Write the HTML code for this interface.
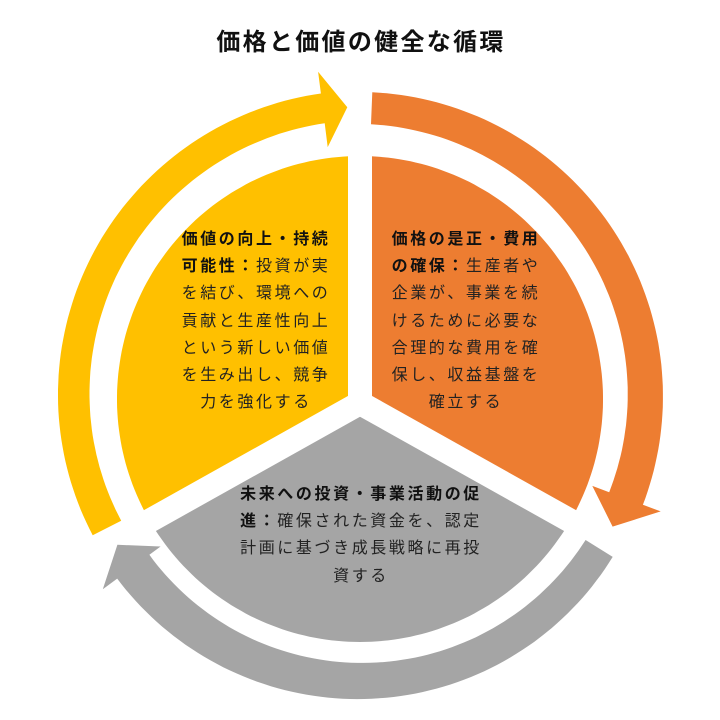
<!DOCTYPE html>
<html><head><meta charset="utf-8">
<style>
html,body{margin:0;padding:0;background:#fff;}
#w{position:relative;width:720px;height:720px;overflow:hidden;font-family:"Liberation Sans","Noto Sans CJK JP",sans-serif;}
svg{position:absolute;left:0;top:0;}
.t{position:absolute;text-align:center;font-size:16px;letter-spacing:2.6px;line-height:27.2px;color:#222;white-space:nowrap;}
b{font-weight:bold;color:#111;}
#title{position:absolute;left:0;width:722px;top:22px;text-align:center;font-size:24px;letter-spacing:2.3px;font-weight:bold;color:#111;}
</style></head><body>
<div id="w">
<svg id="s" width="720" height="720" viewBox="0 0 720 720">
<g id="pie"></g>
<g id="arr"></g>
</svg>
<div id="title">価格と価値の健全な循環</div>
<div class="t" style="left:156px;width:200px;top:226px;"><b>価値の向上・持続</b><br><b>可能性：</b>投資が実<br>を結び、環境への<br>貢献と生産性向上<br>という新しい価値<br>を生み出し、競争<br>力を強化する</div>
<div class="t" style="left:366px;width:200px;top:226px;"><b>価格の是正・費用</b><br><b>の確保：</b>生産者や<br>企業が、事業を続<br>けるために必要な<br>合理的な費用を確<br>保し、収益基盤を<br>確立する</div>
<div class="t" style="left:211px;width:300px;top:481px;"><b>未来への投資・事業活動の促</b><br><b>進：</b>確保された資金を、認定<br>計画に基づき成長戦略に再投<br>資する</div>
</div>
<script>
var cx=360,cy=399,NS="http://www.w3.org/2000/svg";
function P(t,r){var a=t*Math.PI/180;return [cx+r*Math.sin(a),cy-r*Math.cos(a)];}
function poly(pts,col,par){var e=document.createElementNS(NS,"polygon");e.setAttribute("points",pts.map(function(p){return p[0].toFixed(1)+","+p[1].toFixed(1)}).join(" "));e.setAttribute("fill",col);document.getElementById(par).appendChild(e);}
function arrow(t1,t2,t3,riA,riB,roA,roB,hi,ho,tr,col){
 var out=[],inn=[],n=80,i;
 for(i=0;i<=n;i++){var f=i/n,t=t1+(t2-t1)*f;out.push(P(t,roA+(roB-roA)*f));inn.push(P(t,riA+(riB-riA)*f));}
 var pts=out.slice();pts.push(P(t2,ho));pts.push(P(t3,tr));pts.push(P(t2,hi));
 pts=pts.concat(inn.reverse());poly(pts,col,"arr");}
function sector(a1,a2,col){var pts=[[cx,cy]],n=90;for(var i=0;i<=n;i++){pts.push(P(a1+(a2-a1)*i/n,243));}poly(pts,col,"pie");}
sector(240,360,"#FFC000");sector(0,120,"#ED7D31");sector(120,240,"#A5A5A5");
var g=document.getElementById("pie");
[0,120,240].forEach(function(t){var p=P(t,260);var l=document.createElementNS(NS,"line");l.setAttribute("x1",cx);l.setAttribute("y1",cy+4);l.setAttribute("x2",p[0]);l.setAttribute("y2",p[1]);l.setAttribute("stroke","#fff");l.setAttribute("stroke-width","24");g.appendChild(l);});
arrow(243,352.7,357.5,268,278,300,308,254,330,292,"#FFC000");
arrow(2.3,110.5,116.8,275,266,307,302,248,321,283,"#ED7D31");
arrow(122,233.5,239,266,262,298,302,248,320,283,"#A5A5A5");
</script>
</body></html>
